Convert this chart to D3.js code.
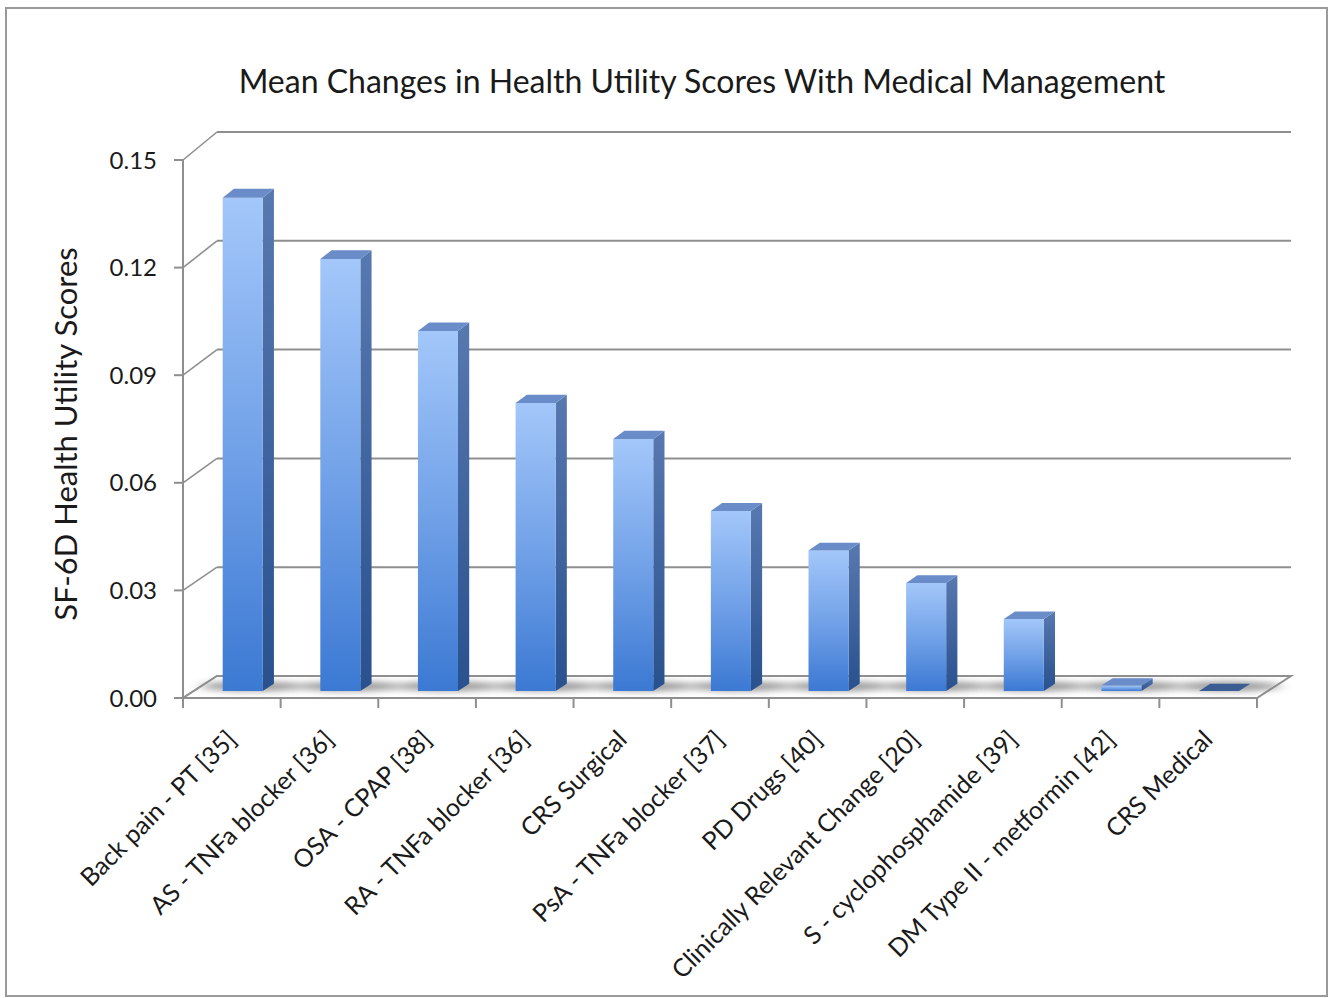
<!DOCTYPE html>
<html>
  <head>
    <meta charset="utf-8">
    <script src="https://d3js.org/d3.v7.min.js"></script>
    <style>
      body { margin: 0; background: white; font-family: Lato, sans-serif; }
    </style>
  </head>
  <body>
    <div id="chart"></div>
    <script>
        // data
        var categories = ["Back pain - PT [35]", "AS - TNFa blocker [36]", "OSA - CPAP [38]",
            "RA - TNFa blocker [36]", "CRS Surgical", "PsA - TNFa blocker [37]", "PD Drugs [40]",
            "Clinically Relevant Change [20]", "S - cyclophosphamide [39]",
            "DM Type II - metformin [42]", "CRS Medical"]
        var values = [0.137, 0.120, 0.100, 0.080, 0.070, 0.050, 0.039, 0.030, 0.020, 0.0015, 0]
        var yTicks = [0, 0.03, 0.06, 0.09, 0.12, 0.15]
        var yMax = 0.15

        var width = 1334, height = 998
        var depthDx = 34        // horizontal shift of the back wall
        var z0 = 0.32, z1 = 0.65 // depth of bar front / back faces

        var svg = d3.select("#chart").append("svg")
            .attr("width", width)
            .attr("height", height)

        var defs = svg.append("defs")
        var front = defs.append("linearGradient").attr("id", "frontGrad")
            .attr("x1", 0).attr("y1", 0).attr("x2", 0).attr("y2", 1)
        front.append("stop").attr("offset", "0%").attr("stop-color", "#a3c7fa")
        front.append("stop").attr("offset", "55%").attr("stop-color", "#6d9ee6")
        front.append("stop").attr("offset", "100%").attr("stop-color", "#3b79d3")
        var side = defs.append("linearGradient").attr("id", "sideGrad")
            .attr("x1", 0).attr("y1", 0).attr("x2", 0).attr("y2", 1)
        side.append("stop").attr("offset", "0%").attr("stop-color", "#5878b0")
        side.append("stop").attr("offset", "100%").attr("stop-color", "#28518e")
        defs.append("filter").attr("id", "blur")
            .attr("x", "-50%").attr("y", "-200%").attr("width", "200%").attr("height", "500%")
            .append("feGaussianBlur").attr("stdDeviation", "7 3")

        // outer frame
        svg.append("rect")
            .attr("x", 6).attr("y", 8).attr("width", 1321).attr("height", 988)
            .attr("fill", "white").attr("stroke", "#9a9a9a").attr("stroke-width", 2)

        var x = d3.scaleBand().domain(categories).range([183, 1257])
        var yFront = d3.scaleLinear().domain([0, yMax]).range([698, 160])
        var yBack = d3.scaleLinear().domain([0, yMax]).range([676, 132])

        function proj(px, v, z) {
            return [px + z * depthDx, yFront(v) * (1 - z) + yBack(v) * z]
        }
        function poly(pts) {
            return "M" + pts.map(function(p){ return p[0] + "," + p[1] }).join("L") + "Z"
        }

        var grid = "#8f8f8f"

        // back wall gridlines and left wall diagonals
        svg.selectAll(".grid").data(yTicks.slice(1)).enter().append("line")
            .attr("x1", x.range()[0] + depthDx).attr("x2", x.range()[1] + depthDx)
            .attr("y1", function(d){ return yBack(d) }).attr("y2", function(d){ return yBack(d) })
            .attr("stroke", grid).attr("stroke-width", 2)
        svg.selectAll(".diag").data(yTicks).enter().append("line")
            .attr("x1", x.range()[0]).attr("x2", x.range()[0] + depthDx)
            .attr("y1", function(d){ return yFront(d) }).attr("y2", function(d){ return yBack(d) })
            .attr("stroke", grid).attr("stroke-width", 1.6)

        // floor
        var f0 = x.range()[0], f1 = x.range()[1]
        svg.append("path")
            .attr("d", poly([proj(f0, 0, 0), proj(f1, 0, 0), proj(f1, 0, 1), proj(f0, 0, 1)]))
            .attr("fill", "white").attr("stroke", grid).attr("stroke-width", 2)

        // y axis line and ticks
        svg.append("line")
            .attr("x1", f0).attr("x2", f0).attr("y1", yFront(yMax)).attr("y2", yFront(0))
            .attr("stroke", grid).attr("stroke-width", 2)
        svg.selectAll(".ytick").data(yTicks).enter().append("line")
            .attr("x1", f0 - 9).attr("x2", f0)
            .attr("y1", function(d){ return yFront(d) }).attr("y2", function(d){ return yFront(d) })
            .attr("stroke", grid).attr("stroke-width", 2)
        svg.selectAll(".ylab").data(yTicks).enter().append("text")
            .attr("x", 157).attr("y", function(d){ return yFront(d) })
            .attr("dy", "0.36em")
            .attr("text-anchor", "end")
            .attr("font-size", 24).attr("fill", "#1a1a1a")
            .text(function(d){ return d3.format(".2f")(d) })

        // x ticks at band edges
        var edges = categories.map(function(c){ return x(c) }).concat([f1])
        svg.selectAll(".xtick").data(edges).enter().append("line")
            .attr("x1", function(d){ return d }).attr("x2", function(d){ return d })
            .attr("y1", yFront(0)).attr("y2", yFront(0) + 10)
            .attr("stroke", grid).attr("stroke-width", 2)

        // bars
        var bw = x.bandwidth() * 0.41
        var bars = svg.selectAll(".bar").data(categories).enter().append("g")

        // floor shadows
        bars.append("ellipse")
            .attr("cx", function(c){ return x(c) + x.bandwidth() / 2 + (z0 + z1) / 2 * depthDx + 4 })
            .attr("cy", function(){ return proj(0, 0, (z0 + z1) / 2)[1] - 1 })
            .attr("rx", bw * 1.3).attr("ry", 5)
            .attr("fill", "#8a8a8a").attr("opacity", 0.85)
            .attr("filter", "url(#blur)")

        bars.each(function(c, i) {
            var g = d3.select(this)
            var v = values[i]
            var xl = x(c) + (x.bandwidth() - bw) / 2, xr = xl + bw
            var fl = proj(xl, 0, z0), fr = proj(xr, 0, z0)
            var tl = proj(xl, v, z0), tr = proj(xr, v, z0)
            var btl = proj(xl, v, z1), btr = proj(xr, v, z1), bbr = proj(xr, 0, z1)
            if (v > 0) {
                g.append("path").attr("d", poly([fr, tr, btr, bbr])).attr("fill", "url(#sideGrad)")
                g.append("path").attr("d", poly([fl, fr, tr, tl])).attr("fill", "url(#frontGrad)")
            }
            g.append("path").attr("d", poly([tl, tr, btr, btl]))
                .attr("fill", v > 0 ? "#6a8dca" : "#3b5d94")
        })

        // category labels
        svg.selectAll(".xlab").data(categories).enter().append("text")
            .attr("transform", function(c){
                return "translate(" + (x(c) + x.bandwidth() / 2 + 6) + ",741) rotate(-45)" })
            .attr("text-anchor", "end")
            .attr("font-size", 25).attr("fill", "#1a1a1a")
            .text(function(c){ return c })

        // titles
        svg.append("text")
            .attr("x", 702).attr("y", 93)
            .attr("text-anchor", "middle")
            .attr("font-size", 32).attr("fill", "#1a1a1a")
            .text("Mean Changes in Health Utility Scores With Medical Management")
        svg.append("text")
            .attr("transform", "translate(77,434) rotate(-90)")
            .attr("text-anchor", "middle")
            .attr("font-size", 31).attr("fill", "#1a1a1a")
            .text("SF-6D Health Utility Scores")
    </script>
  </body>
</html>
